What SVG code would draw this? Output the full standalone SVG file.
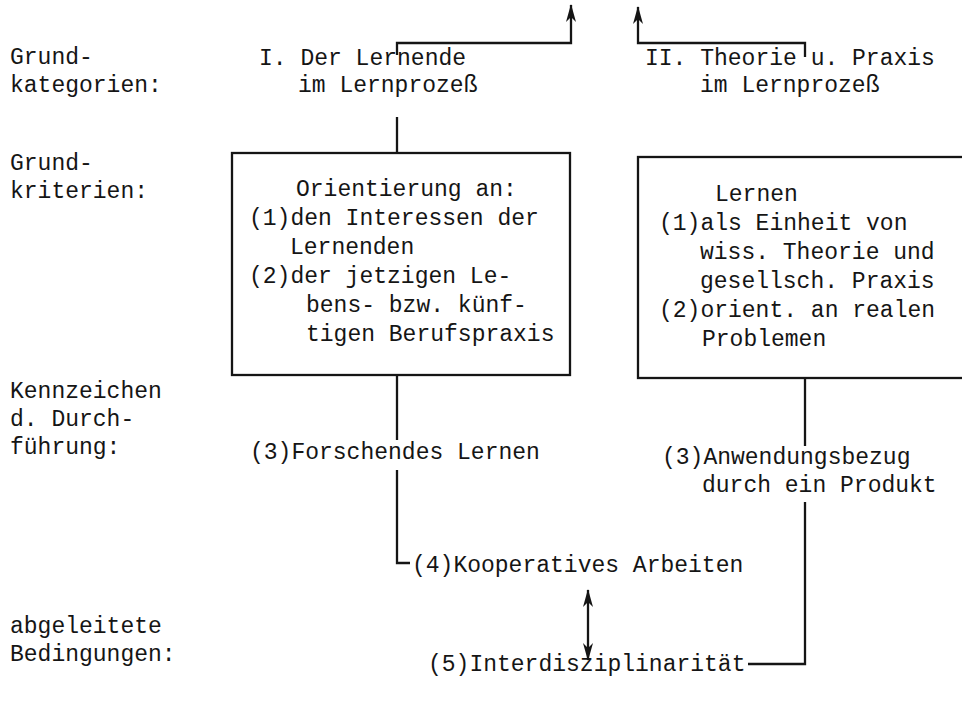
<svg xmlns="http://www.w3.org/2000/svg" width="962" height="706" viewBox="0 0 962 706">
<style>
text{font-family:"Liberation Mono","DejaVu Sans Mono",monospace;font-size:23px;fill:#151515}
.ln{fill:none;stroke:#151515;stroke-width:2.3}
.box{fill:none;stroke:#151515;stroke-width:2.3}
</style>
<defs>
<marker id="ah" viewBox="0 0 18 10" refX="17" refY="5" markerWidth="18" markerHeight="10" markerUnits="userSpaceOnUse" orient="auto-start-reverse">
<path d="M18,5 L0,0 L5,5 L0,10 Z" fill="#151515"/>
</marker>
</defs>
<rect width="962" height="706" fill="#fff"/>
<g id="labels">
<text x="10" y="64">Grund-</text>
<text x="10" y="92">kategorien:</text>
<text x="10" y="170">Grund-</text>
<text x="10" y="198">kriterien:</text>
<text x="10" y="398">Kennzeichen</text>
<text x="10" y="426">d. Durch-</text>
<text x="10" y="454">führung:</text>
<text x="10" y="633">abgeleitete</text>
<text x="10" y="661">Bedingungen:</text>
</g>
<g id="cat1">
<text x="259" y="65">I. Der Lernende</text>
<text x="298" y="92">im Lernprozeß</text>
</g>
<g id="cat2">
<text x="645" y="65">II. Theorie u. Praxis</text>
<text x="700" y="92">im Lernprozeß</text>
</g>
<g id="crit1">
<rect class="box" x="232" y="153" width="338" height="222"/>
<text x="296" y="196">Orientierung an:</text>
<text x="249" y="225">(1)den Interessen der</text>
<text x="290" y="254">Lernenden</text>
<text x="249" y="283">(2)der jetzigen Le-</text>
<text x="306" y="312">bens- bzw. künf-</text>
<text x="306" y="341">tigen Berufspraxis</text>
</g>
<g id="crit2">
<rect class="box" x="638" y="157" width="340" height="221"/>
<text x="715" y="201">Lernen</text>
<text x="659" y="230">(1)als Einheit von</text>
<text x="700" y="259">wiss. Theorie und</text>
<text x="700" y="288">gesellsch. Praxis</text>
<text x="659" y="317">(2)orient. an realen</text>
<text x="702" y="346">Problemen</text>
</g>
<g id="k3a"><text x="250" y="459">(3)Forschendes Lernen</text></g>
<g id="k3b">
<text x="662" y="464">(3)Anwendungsbezug</text>
<text x="702" y="492">durch ein Produkt</text>
</g>
<g id="k4"><text x="412" y="572">(4)Kooperatives Arbeiten</text></g>
<g id="k5"><text x="428" y="671">(5)Interdisziplinarität</text></g>
<g id="connectors">
<polyline class="ln" points="397,55 397,43 571,43 571,5" marker-end="url(#ah)"/>
<polyline class="ln" points="805,57 805,43 638,43 638,7" marker-end="url(#ah)"/>
<line class="ln" x1="397" y1="117" x2="397" y2="153"/>
<line class="ln" x1="397" y1="375" x2="397" y2="440"/>
<polyline class="ln" points="397,470 397,563 410,563"/>
<line class="ln" x1="805" y1="378" x2="805" y2="446"/>
<polyline class="ln" points="805,502 805,664 748,664"/>
<line class="ln" x1="588" y1="590" x2="588" y2="660" marker-start="url(#ah)" marker-end="url(#ah)"/>
</g>
</svg>
